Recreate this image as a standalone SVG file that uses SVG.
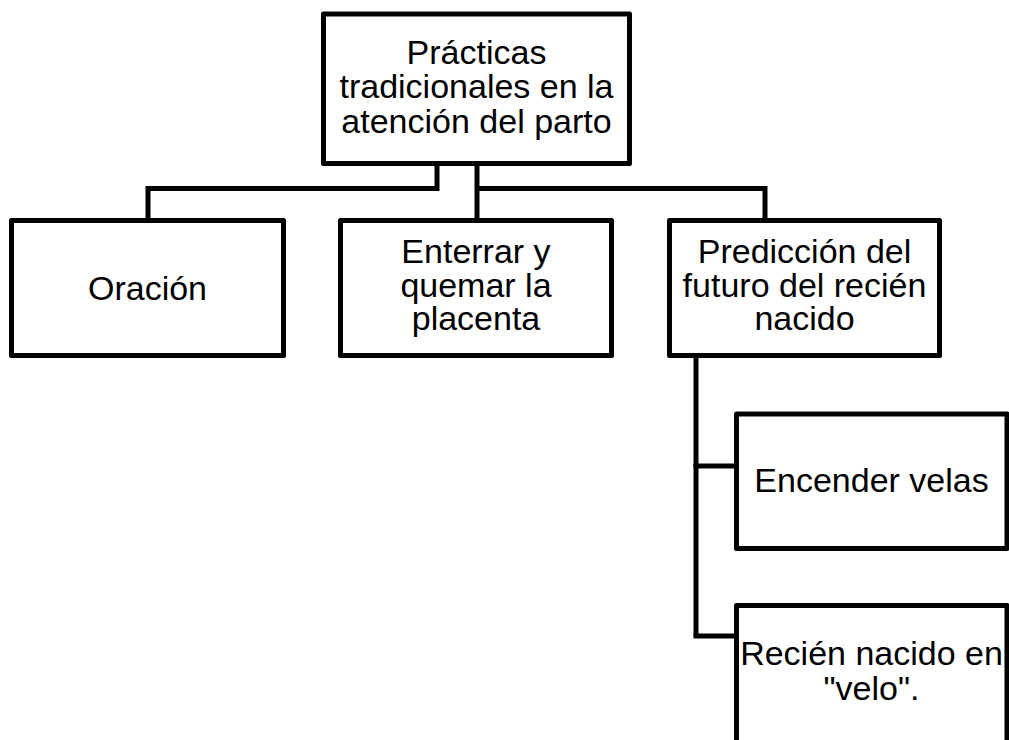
<svg xmlns="http://www.w3.org/2000/svg" width="1009" height="740" viewBox="0 0 1009 740">
<style>
.box{fill:#fff;stroke:#000;stroke-width:5;stroke-linejoin:round}
.con{fill:none;stroke:#000;stroke-width:5}
.t{font-family:"Liberation Sans",Arial,sans-serif;font-size:34px;fill:#000;text-anchor:middle}
</style>
<rect width="1009" height="740" fill="#fff"/>
<g id="connectors">
<path class="con" d="M437,163.5 V188.5 H148 V218"/>
<path class="con" d="M477,163.5 V218"/>
<path class="con" d="M477,188.5 H765 V218"/>
<path class="con" d="M696,355.5 V636"/>
<path class="con" d="M693.5,466 H734"/>
<path class="con" d="M693.5,636 H734"/>
</g>
<g id="n-root">
<rect class="box" x="323.5" y="14" width="306" height="149.5"/>
<text class="t" x="476.5"><tspan x="476.5" y="63.5">Prácticas</tspan><tspan x="476.5" y="98">tradicionales en la</tspan><tspan x="476.5" y="132.5">atención del parto</tspan></text>
</g>
<g id="n-oracion">
<rect class="box" x="11.5" y="220.5" width="272" height="135"/>
<text class="t" x="147.5" y="300">Oración</text>
</g>
<g id="n-enterrar">
<rect class="box" x="340.5" y="220.5" width="271" height="135"/>
<text class="t"><tspan x="476" y="263">Enterrar y</tspan><tspan x="476" y="296.5">quemar la</tspan><tspan x="476" y="330">placenta</tspan></text>
</g>
<g id="n-prediccion">
<rect class="box" x="669.5" y="220.5" width="270" height="135"/>
<text class="t"><tspan x="804.5" y="262.5">Predicción del</tspan><tspan x="804.5" y="296.5">futuro del recién</tspan><tspan x="804.5" y="330">nacido</tspan></text>
</g>
<g id="n-velas">
<rect class="box" x="736.5" y="414" width="270.5" height="134.5"/>
<text class="t" x="871.5" y="492">Encender velas</text>
</g>
<g id="n-velo">
<rect class="box" x="736.5" y="605.5" width="270.5" height="140"/>
<text class="t"><tspan x="871.5" y="665">Recién nacido en</tspan><tspan x="871.5" y="700">"velo".</tspan></text>
</g>
</svg>
